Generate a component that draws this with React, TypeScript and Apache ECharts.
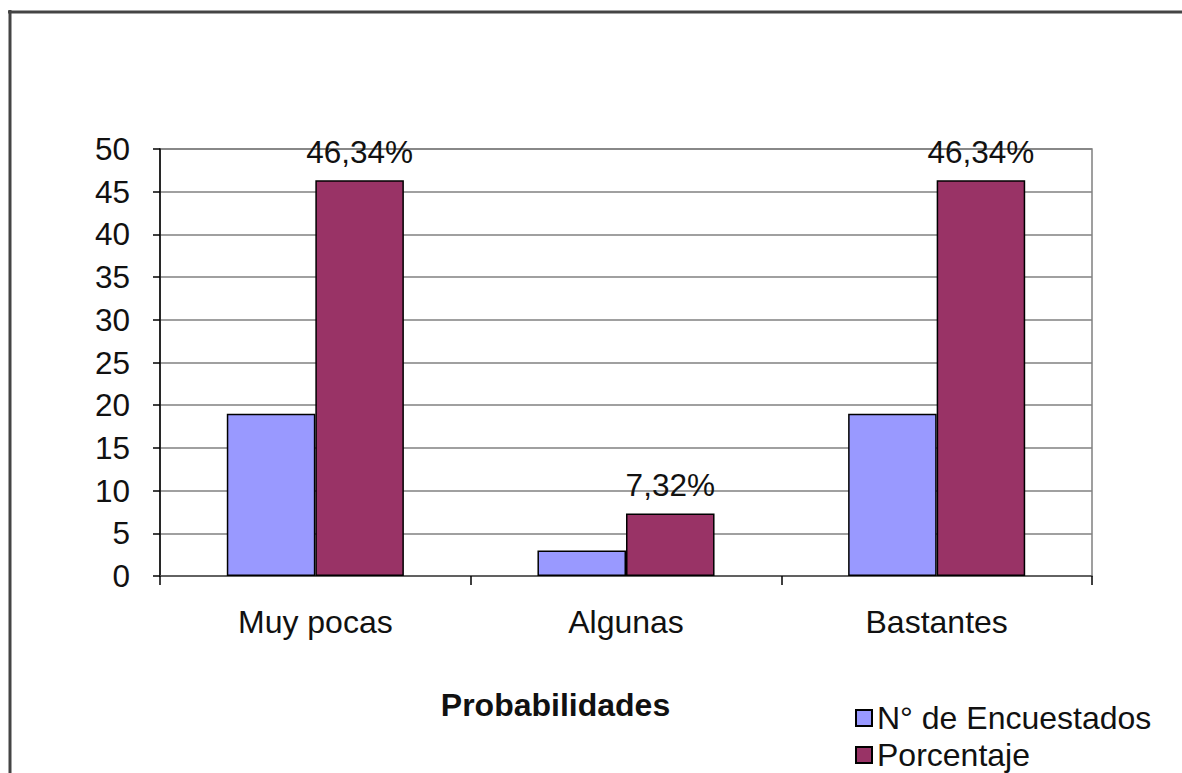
import React, { useEffect, useRef } from "react";
import * as echarts from "echarts";

const categories = ["Muy pocas", "Algunas", "Bastantes"];
const encuestados = [19, 3, 19];
const porcentaje = [46.34, 7.32, 46.34];
const seriesNames = ["N° de Encuestados", "Porcentaje"];
const axisTitle = "Probabilidades";

const FONT = "'Liberation Sans', Arial, sans-serif";

export default function App() {
  const ref = useRef<HTMLDivElement>(null);
  useEffect(() => {
    if (!ref.current) return;
    const chart = echarts.init(ref.current, undefined, { renderer: "svg" });
    chart.setOption({
      animation: false,
      backgroundColor: "#ffffff",
      textStyle: { fontFamily: FONT },
      grid: {
        left: 160,
        right: 90,
        top: 149,
        bottom: 197,
        show: true,
        borderColor: "#808080",
        borderWidth: 1.5,
        backgroundColor: "transparent",
      },
      legend: {
        orient: "vertical",
        left: 855,
        top: 702,
        padding: 0,
        itemWidth: 16,
        itemHeight: 16,
        itemGap: 5,
        icon: "rect",
        textStyle: { fontSize: 32, color: "#111", fontFamily: FONT },
        data: seriesNames,
      },
      xAxis: {
        type: "category",
        data: categories,
        axisLine: { show: true, lineStyle: { color: "#555", width: 1.5 } },
        axisTick: { show: true, interval: 0, length: 9, lineStyle: { color: "#000", width: 1.5 } },
        axisLabel: { fontSize: 32, color: "#111", margin: 30, fontFamily: FONT },
      },
      yAxis: {
        type: "value",
        min: 0,
        max: 50,
        interval: 5,
        axisLine: { show: true, lineStyle: { color: "#000", width: 1.5 } },
        axisTick: { show: true, length: 7, lineStyle: { color: "#000", width: 1.5 } },
        axisLabel: { fontSize: 31.5, color: "#111", margin: 30, fontFamily: FONT },
        splitLine: { show: true, lineStyle: { color: "#808080", width: 1.5 } },
      },
      series: [
        {
          name: seriesNames[0],
          type: "bar",
          data: encuestados,
          barGap: "0%",
          barCategoryGap: "43%",
          itemStyle: { color: "#9999FF", borderColor: "#000", borderWidth: 1.5 },
        },
        {
          name: seriesNames[1],
          type: "bar",
          data: porcentaje,
          barGap: "0%",
          barCategoryGap: "43%",
          itemStyle: { color: "#993366", borderColor: "#000", borderWidth: 1.5 },
          label: {
            show: true,
            position: "top",
            distance: 12,
            fontSize: 31.5,
            color: "#111",
            fontFamily: FONT,
            formatter: (p: any) => p.value.toFixed(2).replace(".", ",") + "%",
          },
        },
      ],
      graphic: [
        {
          type: "line",
          shape: { x1: 8, y1: 12, x2: 1182, y2: 12 },
          style: { stroke: "#444", lineWidth: 3 },
        },
        {
          type: "line",
          shape: { x1: 10, y1: 10, x2: 10, y2: 773 },
          style: { stroke: "#444", lineWidth: 3 },
        },
        {
          type: "text",
          x: 555.5,
          y: 705,
          style: {
            text: axisTitle,
            fontSize: 32,
            fontWeight: "bold",
            fontFamily: FONT,
            fill: "#111",
            align: "center",
            verticalAlign: "middle",
          },
        },
      ],
    });
    return () => chart.dispose();
  }, []);
  return (
    <div
      ref={ref}
      style={{ position: "absolute", left: 0, top: 0, width: 1182, height: 773 }}
    />
  );
}
